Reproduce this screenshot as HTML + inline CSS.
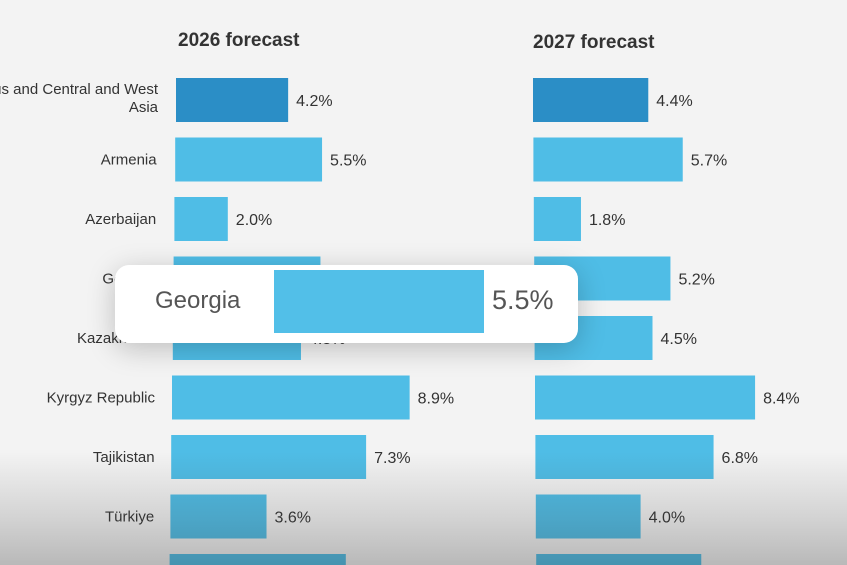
<!DOCTYPE html>
<html><head><meta charset="utf-8"><style>
html,body{margin:0;padding:0;}
body{width:847px;height:565px;overflow:hidden;position:relative;background:#f3f3f3;font-family:"Liberation Sans",sans-serif;}
#chart{position:absolute;left:0;top:0;width:847px;height:565px;}
.shade{position:absolute;left:0;top:0;width:847px;height:565px;pointer-events:none;
background:linear-gradient(to bottom,rgba(0,0,0,0) 0%,rgba(0,0,0,0) 80%,rgba(60,60,60,0.18) 92%,rgba(50,50,50,0.3) 100%);}
#popup{position:absolute;left:115px;top:265px;width:463px;height:78px;background:#fff;border-radius:14px;box-shadow:0 6px 28px rgba(0,0,0,0.22);}
</style></head><body>
<svg id="chart" xmlns="http://www.w3.org/2000/svg" width="847" height="565"></svg>
<div class="shade"></div>
<div id="popup">
  <div style="position:absolute;left:40px;top:22px;font-size:24px;color:#555;">Georgia</div>
  <div style="position:absolute;left:159px;top:5px;width:210px;height:63px;background:#52bfe8;"></div>
  <div style="position:absolute;left:377px;top:20px;font-size:27px;color:#555;">5.5%</div>
</div>
<script>
const categories=["Caucasus and Central and West Asia","Armenia","Azerbaijan","Georgia","Kazakhstan","Kyrgyz Republic","Tajikistan","Türkiye",""];
const values2026=[4.2,5.5,2.0,5.5,4.8,8.9,7.3,3.6,6.6];
const values2027=[4.4,5.7,1.8,5.2,4.5,8.4,6.8,4.0,6.3];
const svg=document.getElementById('chart');
const NS='http://www.w3.org/2000/svg';
const rowY=i=>100+i*59.5;
const xL=v=>v*26.7;
const xR=v=>v*26.2;
function mk(t,a){const e=document.createElementNS(NS,t);for(const k in a)e.setAttribute(k,a[k]);svg.appendChild(e);return e;}
let t=mk('text',{x:178,y:46,'font-size':19,'font-weight':'bold',fill:'#333'});t.textContent='2026 forecast';


t=mk('text',{x:533,y:48,'font-size':19,'font-weight':'bold',fill:'#333'});t.textContent='2027 forecast';


categories.forEach((c,i)=>{
  const cy=rowY(i);
  const l0=176-i*0.8, r0=533+i*0.4;
  const col=i===0?'#2b8ec6':'#4fbde6';
  const top=cy-22, h=Math.min(44,565-top);
  let b=mk('rect',{x:l0,y:top,width:xL(values2026[i]),height:h,fill:col});
  
  
  let v=mk('text',{x:l0+xL(values2026[i])+8,y:cy+6,'font-size':16,fill:'#333'});v.textContent=values2026[i].toFixed(1)+'%';
  
  
  b=mk('rect',{x:r0,y:top,width:xR(values2027[i]),height:h,fill:col});
  
  
  v=mk('text',{x:r0+xR(values2027[i])+8,y:cy+6,'font-size':16,fill:'#333'});v.textContent=values2027[i].toFixed(1)+'%';
  
  
  if(i===0){
    let a=mk('text',{x:158,y:cy-6,'font-size':15,fill:'#333','text-anchor':'end'});a.textContent='Caucasus and Central and West';
    
    
    a=mk('text',{x:158,y:cy+12,'font-size':15,fill:'#333','text-anchor':'end'});a.textContent='Asia';
    
    
  } else if(c){
    const a=mk('text',{x:157-i*0.4,y:cy+5,'font-size':15,fill:'#333','text-anchor':'end'});a.textContent=c;
    
    
  }
});
</script>
</body></html>
